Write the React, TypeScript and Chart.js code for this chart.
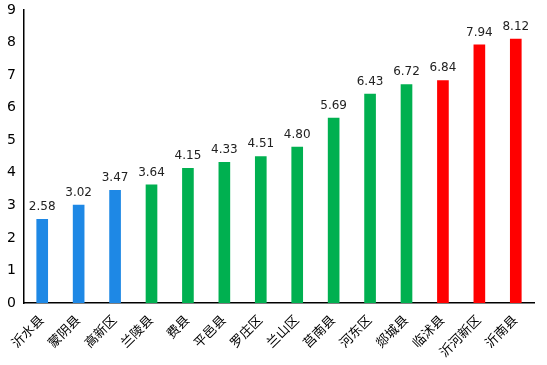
import React, { useEffect, useRef } from "react";
import { Chart, registerables } from "chart.js";

Chart.register(...registerables);

const categories = ["沂水县", "蒙阴县", "高新区", "兰陵县", "费县", "平邑县", "罗庄区", "兰山区", "莒南县", "河东区", "郯城县", "临沭县", "沂河新区", "沂南县"];
const values = [2.58, 3.02, 3.47, 3.64, 4.15, 4.33, 4.51, 4.8, 5.69, 6.43, 6.72, 6.84, 7.94, 8.12];
const barColors = ["#1E88E5", "#1E88E5", "#1E88E5", "#00B050", "#00B050", "#00B050", "#00B050", "#00B050", "#00B050", "#00B050", "#00B050", "#FF0000", "#FF0000", "#FF0000"];
const yTicks = [0, 1, 2, 3, 4, 5, 6, 7, 8, 9];

const FONT = "'DejaVu Sans', 'Noto Sans CJK SC', sans-serif";

const valueLabels = {
  id: "valueLabels",
  afterDatasetsDraw(chart: any) {
    const ctx = chart.ctx;
    const meta = chart.getDatasetMeta(0);
    ctx.save();
    ctx.font = `12px ${FONT}`;
    ctx.fillStyle = "#222";
    ctx.textAlign = "center";
    ctx.textBaseline = "bottom";
    meta.data.forEach((el: any, i: number) => {
      ctx.fillText(values[i].toFixed(2), el.x, el.y - 6);
    });
    ctx.restore();
  },
};

export default function App() {
  const ref = useRef<HTMLCanvasElement>(null);
  useEffect(() => {
    document.body.style.margin = "0";
    const chart = new Chart(ref.current!, {
      type: "bar",
      data: {
        labels: categories,
        datasets: [
          {
            data: values,
            backgroundColor: barColors,
            barPercentage: 0.32,
            categoryPercentage: 1,
          },
        ],
      },
      options: {
        animation: false,
        responsive: false,
        layout: { padding: { top: 0, right: 13, left: 2, bottom: 0 } },
        plugins: { legend: { display: false }, tooltip: { enabled: false } },
        scales: {
          x: {
            grid: { display: false, drawTicks: false },
            border: { display: true, color: "#000", width: 1.5 },
            afterFit: (axis: any) => {
              axis.paddingLeft = 0;
              axis.paddingRight = 0;
              axis.height = 62;
            },
            ticks: {
              color: "#000",
              font: { family: FONT, size: 13 },
              maxRotation: 45,
              minRotation: 45,
              padding: 10,
            },
          },
          y: {
            min: 0,
            max: 9,
            afterBuildTicks: (axis: any) => {
              axis.ticks = yTicks.map((v) => ({ value: v }));
            },
            afterFit: (axis: any) => {
              axis.width = 22;
              axis.paddingTop = 10;
              axis.paddingBottom = 0;
            },
            grid: { display: false, drawTicks: false },
            border: { display: true, color: "#000", width: 1.5 },
            ticks: {
              color: "#000",
              font: { family: FONT, size: 14 },
              padding: 8,
            },
          },
        },
      },
      plugins: [valueLabels],
    });
    return () => chart.destroy();
  }, []);
  return <canvas ref={ref} width={547} height={365} style={{ display: "block" }} />;
}
